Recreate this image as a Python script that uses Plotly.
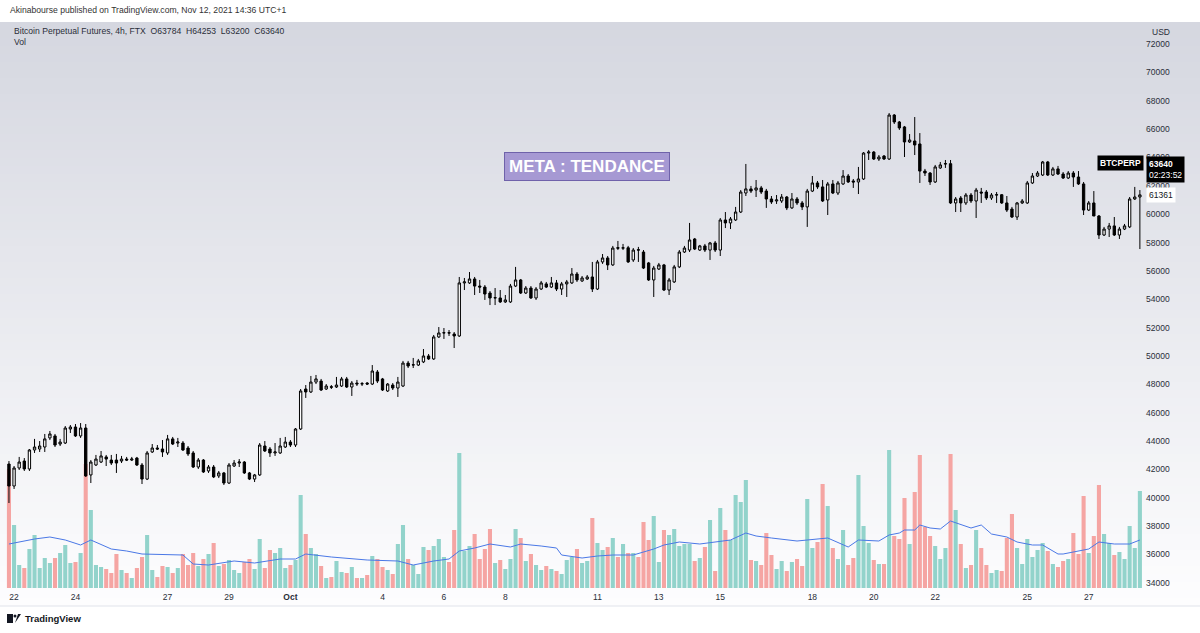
import plotly.graph_objects as go
import pandas as pd

# ---------------- data ----------------
open_ = [42380,40830,42100,42590,42030,43370,43440,43580,44220,44360,43790,43860,44850,44990,44360,44920,41610,42310,42520,42880,
         42660,42660,42590,42730,42660,42800,42310,41320,43230,43510,43440,43160,44150,43860,43860,43510,43160,42170,42660,41890,
         42170,41540,41750,41040,42240,42450,42520,41750,41320,41610,43650,43440,43160,43160,43580,43930,43720,44850,47670,47460,
         48160,48230,47670,47830,47810,47880,48380,47810,48090,48020,48090,48020,48870,48380,47530,47950,47740,47880,49500,49360,
         49360,49580,50000,49790,51340,51620,51640,51550,51410,55150,55150,55430,54930,54860,54440,54090,54090,53810,53810,54930,
         55360,54440,54790,54090,54720,55080,54860,55150,54720,55080,55150,55780,55290,55430,55570,54720,56630,56910,56420,57640,
         57600,57630,56770,57490,57330,56560,55360,56130,56420,54650,55220,56280,57330,57470,58250,57470,57760,57470,57970,57470,
         59590,59380,59590,60150,61490,61780,61700,61850,61630,61070,60930,60930,61210,60440,61070,60790,60510,61630,62200,61920,
         61000,62130,61490,62130,62690,62340,62270,62480,64310,64380,63890,64100,63890,66990,66500,66150,65090,65160,64950,63040,
         62900,62270,63260,63540,63560,60790,61140,60790,61350,60930,61560,61560,61140,61350,61370,60790,60360,59800,60790,60790,
         62200,62690,62760,63680,62760,63190,62830,62550,62900,62620,62130,60290,60790,59870,58530,58950,59170,58530,58950,59100,
         61070,61210]
high = [42590,42240,42880,42800,43440,44150,44000,44500,44710,44500,44150,45060,45130,45200,45270,45200,42660,43020,43300,43020,
        43020,43090,42950,42880,42880,42880,42450,43300,43790,43720,44070,44430,44290,44220,44000,43650,43300,42800,42730,42310,
        42310,41890,41820,42450,42660,42730,42590,41820,41680,43860,44000,43580,43860,44220,44290,44070,44920,47670,47950,48590,
        48660,48380,48020,47950,48520,48520,48520,48230,48310,48160,48160,49360,49010,48450,48090,48090,48520,49650,49650,49860,
        49790,50490,50140,51480,52040,51970,51830,51690,55570,55500,55920,55570,55360,55000,54580,54790,54650,54300,55080,56280,
        55430,54930,54930,54860,55290,55220,55570,55360,55220,55360,56200,55920,55640,55710,56630,56770,57190,57050,57760,58110,
        57900,57760,57610,57690,57470,56630,56350,56560,56490,55500,56420,57470,57760,59380,58320,57830,57900,58040,58110,59730,
        60150,59800,60510,61700,63540,61990,62410,61990,61780,61280,61350,61420,61280,61490,61210,60930,61780,62690,62340,62410,
        62270,62410,62340,63110,62830,62480,63330,64380,64520,64450,64170,64170,67130,67060,66570,66220,65650,66850,65720,63190,
        62970,63470,63680,63820,63820,61210,61280,61490,61490,61850,61850,61700,61490,61560,61420,61280,60510,60860,61070,62340,
        62900,63040,63750,63750,63330,63400,62970,63040,63040,63040,62270,60930,61630,59940,59100,59380,59800,59100,59310,61210,
        61920,61700]
low = [39630,40620,41960,41890,41890,43160,43230,43230,44070,43580,43650,43790,44570,44290,44220,41470,41040,42240,42450,42240,
       42310,41750,42450,42590,42590,42240,40970,41250,43160,43370,42880,43020,43720,43580,43300,42950,42100,42030,41750,41750,
       41390,41390,40900,40970,42170,42170,41680,41250,41110,41540,43230,42880,42950,43090,43510,43580,43580,44780,47040,47390,
       48020,47530,47600,47670,47740,47810,47740,47180,47880,47880,47950,47950,48090,47530,47460,47600,47110,47810,49150,49150,
       49290,49500,49720,49720,51270,51200,51410,50560,51340,54650,55080,54300,54440,53950,53590,53590,53740,53740,53740,54860,
       54370,54370,54020,53950,54650,54790,54790,54580,54300,54160,55080,55220,55220,55360,54510,54650,56490,56060,56350,57470,
       57470,56560,56630,56630,56130,55290,54160,56060,54580,54300,55150,56200,57260,57330,57470,57400,57330,56770,57330,57050,
       59020,58950,59520,60080,61280,61490,61210,61420,60440,60720,60720,60790,60290,60370,60650,60290,59100,61560,61780,60860,
       59940,61420,61350,62060,62200,61850,61420,62410,63820,63820,63750,63820,63820,66360,65940,64030,65020,64170,62200,62690,
       62060,62200,63190,63260,60720,60150,60150,60650,60790,59730,60790,61000,61000,60790,60720,60150,59730,59590,60720,60720,
       62130,62620,62690,62690,62690,62760,62480,62480,61920,62060,59940,60220,59940,58250,58460,58390,58460,58250,58880,59020,
       61000,57540]
close = [40830,42100,42520,42030,43370,43580,43650,44150,44500,43720,43930,44920,44990,44360,44920,41540,42520,42730,42950,42730,
         42450,42450,42730,42660,42730,42310,41320,43160,43510,43440,43230,44150,43790,43930,43370,43090,42170,42660,41820,42170,
         41470,41750,41040,42310,42450,42520,41750,41320,41610,43720,43300,43160,43230,43650,43930,43720,44850,47530,47460,48160,
         48380,47600,47880,47800,47950,48380,47810,48090,48030,48050,48020,48940,48230,47600,48020,47740,48160,49500,49290,49380,
         49650,50000,49790,51340,51620,51640,51620,51410,55150,55220,55430,54930,54860,54370,54090,54110,53810,53950,54930,55360,
         54440,54790,54090,54720,55150,54860,55150,54720,55080,55220,55780,55360,55500,55570,54720,56630,56910,56420,57610,57600,
         57630,56630,57470,57470,56200,55360,56200,56420,54650,55360,56280,57330,57610,58180,57540,57760,57470,57970,57470,59590,
         59380,59660,60150,61560,61780,61630,61850,61560,61070,60860,61000,61210,60440,61070,60790,60510,61630,62200,61920,60930,
         62130,61490,62200,62690,62270,62270,62480,64310,64380,63890,64030,63890,66990,66500,66080,65090,65230,64880,63040,62900,
         62270,63330,63470,63560,60790,61070,60790,61350,60930,61700,61490,61140,61350,61370,60790,60290,59800,60790,60930,62200,
         62690,62900,63680,62760,63190,62830,62550,62900,62620,62130,60290,60790,59870,58530,58950,59170,58530,58950,59170,61070,
         61210,61361]
volume_musd = [1190,630,230,200,390,530,200,300,250,300,350,430,250,260,350,1240,780,230,210,190,
               150,340,180,150,100,200,310,530,180,110,220,210,150,200,340,230,350,220,290,340,
               450,220,240,280,180,150,260,290,190,490,200,380,350,400,200,230,280,930,540,400,
               340,220,100,110,270,160,150,210,100,100,130,320,290,210,180,140,440,630,290,230,
               140,410,380,420,490,310,260,580,1350,370,420,540,290,390,590,250,280,190,290,590,
               500,270,340,230,180,220,190,170,140,280,310,390,250,270,700,450,380,410,500,310,
               440,350,350,310,660,480,720,260,580,530,590,420,440,440,270,300,410,680,170,800,
               580,480,930,860,1080,280,270,230,550,330,190,270,170,260,290,220,890,400,460,1040,
               820,400,290,580,230,300,1130,620,450,280,240,240,1380,520,490,900,440,960,1330,610,
               520,420,290,400,1340,780,440,200,230,580,400,230,150,180,170,500,740,400,240,490,
               310,380,450,370,240,210,270,290,550,340,920,350,520,1030,540,450,330,360,290,620,
               400,970]
# volume moving average, read at sampled bars (bar index, value)
ma_bar = [0,5,8,11,14,16,20,23,26,31,34,36,39,44,48,53,56,58,63,70,76,79,83,86,88,91,94,98,100,104,107,108,112,115,118,
          122,126,128,131,135,141,144,146,149,154,160,164,166,170,172,174,175,177,178,180,182,184,188,190,192,195,197,200,
          202,205,206,208,211,213,216,219,221]
ma_musd = [440,490,510,480,430,480,390,370,340,330,330,240,230,270,250,290,290,340,310,280,270,230,270,290,370,400,440,
           410,440,420,400,330,300,320,330,330,390,430,460,440,480,550,520,500,470,500,410,480,470,530,550,580,580,630,
           600,590,670,600,630,540,510,460,430,430,340,340,360,390,460,440,440,480]

tick_dates = ["2021-09-22", "2021-09-24", "2021-09-27", "2021-09-29", "2021-10-01", "2021-10-04", "2021-10-06",
              "2021-10-08", "2021-10-11", "2021-10-13", "2021-10-15", "2021-10-18", "2021-10-20", "2021-10-22",
              "2021-10-25", "2021-10-27"]
tick_text = ["22", "24", "27", "29", "<b>Oct</b>", "4", "6", "8", "11", "13", "15", "18", "20", "22", "25", "27"]
price_ticks = [34000, 36000, 38000, 40000, 42000, 44000, 46000, 48000, 50000, 52000, 54000, 56000, 58000, 60000,
               62000, 64000, 66000, 68000, 70000, 72000]

times = pd.date_range("2021-09-21 20:00", periods=len(close), freq="4h")
ma_times = [times[i] for i in ma_bar]

# ---------------- layout helpers ----------------
W, H = 1200, 633
ML, MR, MT, MB = 0, 55, 24, 43
PW, PH = W - ML - MR, H - MT - MB


def fx(px):
    return (px - ML) / PW


def fy(py):
    return (H - MB - py) / PH


up_col, dn_col = "#92d3cb", "#f5a5a3"
vol_colors = [up_col if c >= o else dn_col for o, c in zip(open_, close)]

fig = go.Figure()
fig.add_trace(go.Bar(x=times, y=volume_musd, marker=dict(color=vol_colors, line=dict(width=0)),
                     yaxis="y", hoverinfo="skip", showlegend=False))
fig.add_trace(go.Scatter(x=ma_times, y=ma_musd, mode="lines", line=dict(color="#4a78e6", width=1),
                         yaxis="y", hoverinfo="skip", showlegend=False))
fig.add_trace(go.Candlestick(x=times, open=open_, high=high, low=low, close=close, yaxis="y2",
                             increasing=dict(line=dict(color="#000000", width=1), fillcolor="#ffffff"),
                             decreasing=dict(line=dict(color="#000000", width=1), fillcolor="#000000"),
                             whiskerwidth=0, showlegend=False))

# background gradient bands
shapes = []
top_c, bot_c = (213, 215, 224), (253, 253, 254)
y0p, y1p, n = 22, 606, 73
for k in range(n):
    t = k / (n - 1)
    c = tuple(round(top_c[j] + (bot_c[j] - top_c[j]) * t) for j in range(3))
    ya = y0p + (y1p - y0p) * k / n
    yb = y0p + (y1p - y0p) * (k + 1) / n + 0.6
    shapes.append(dict(type="rect", xref="paper", yref="paper", x0=fx(0), x1=fx(W), y0=fy(yb), y1=fy(ya),
                       fillcolor="rgb(%d,%d,%d)" % c, line=dict(width=0), layer="below"))
shapes.append(dict(type="line", xref="paper", yref="paper", x0=fx(0), x1=fx(W), y0=fy(606), y1=fy(606),
                   line=dict(color="#e0e3eb", width=1), layer="below"))
# TradingView logo mark
shapes.append(dict(type="rect", xref="paper", yref="paper", x0=fx(7), x1=fx(13), y0=fy(623), y1=fy(614),
                   fillcolor="#131722", line=dict(width=0)))
shapes.append(dict(type="circle", xref="paper", yref="paper", x0=fx(13.5), x1=fx(16.5), y0=fy(617.5), y1=fy(614.5),
                   fillcolor="#131722", line=dict(width=0)))
shapes.append(dict(type="path", xref="paper", yref="paper",
                   path="M %f %f L %f %f L %f %f Z" % (fx(15), fy(623), fx(18), fy(614), fx(21), fy(614)),
                   fillcolor="#131722", line=dict(width=0)))

ann = []
txt = "#2a2e39"


def note(text, px, py, xa="left", ya="middle", yref="paper", **kw):
    d = dict(text=text, x=fx(px), y=(fy(py) if yref == "paper" else py), xref="paper", yref=yref,
             xanchor=xa, yanchor=ya, showarrow=False)
    d.update(kw)
    ann.append(d)


note("Akinabourse published on TradingView.com, Nov 12, 2021 14:36 UTC+1", 8, 10,
     font=dict(size=8.6, color="#333333"))
note("Bitcoin Perpetual Futures, 4h, FTX  O63784  H64253  L63200  C63640", 12, 31, font=dict(size=8.6, color=txt))
note("Vol", 12, 42, font=dict(size=8.6, color=txt))
note("USD", 1150, 32, font=dict(size=8.5, color=txt))
note("<b>META : TENDANCE</b>", 587, 166, xa="center",
     font=dict(size=17, color="#ffffff", family="Liberation Sans"),
     bgcolor="#a699d3", bordercolor="#6f62aa", borderwidth=1, borderpad=4)
note("<b>BTCPERP</b>", 1144, 63640, xa="right", yref="y2",
     font=dict(size=8.5, color="#ffffff"), bgcolor="#000000", borderpad=2)
note("<b>63640</b><br>02:23:52", 1146, 156, ya="top", align="left",
     font=dict(size=8.5, color="#ffffff"), bgcolor="#000000", borderpad=2)
note("61361", 1146, 61361, yref="y2", font=dict(size=8.5, color="#131722"), bgcolor="#ffffff", borderpad=2)
note("<b>TradingView</b>", 23, 618, font=dict(size=9.5, color="#131722"))

t0 = times[0]
fig.update_layout(
    width=W, height=H,
    margin=dict(l=ML, r=MR, t=MT, b=MB, autoexpand=False),
    paper_bgcolor="#ffffff", plot_bgcolor="rgba(0,0,0,0)",
    font=dict(family="Liberation Sans, Arial, sans-serif", color=txt),
    bargap=0.2, boxgap=0.35,
    showlegend=False,
    shapes=shapes, annotations=ann,
    xaxis=dict(type="date", range=[t0 - pd.Timedelta(hours=7), t0 + pd.Timedelta(hours=888)],
               tickvals=tick_dates, ticktext=tick_text, tickfont=dict(size=8.5, color=txt),
               showgrid=False, zeroline=False, showline=False, ticks="",
               rangeslider=dict(visible=False), fixedrange=True),
    yaxis=dict(range=[-20, 5640], visible=False, showgrid=False, zeroline=False, fixedrange=True),
    yaxis2=dict(overlaying="y", side="right", range=[33496, 73410], tickvals=price_ticks,
                ticktext=[str(v) for v in price_ticks],
                tickfont=dict(size=8.5, color=txt), showgrid=False, zeroline=False, showline=False,
                ticks="", fixedrange=True),
)

fig.write_html("out.html")
